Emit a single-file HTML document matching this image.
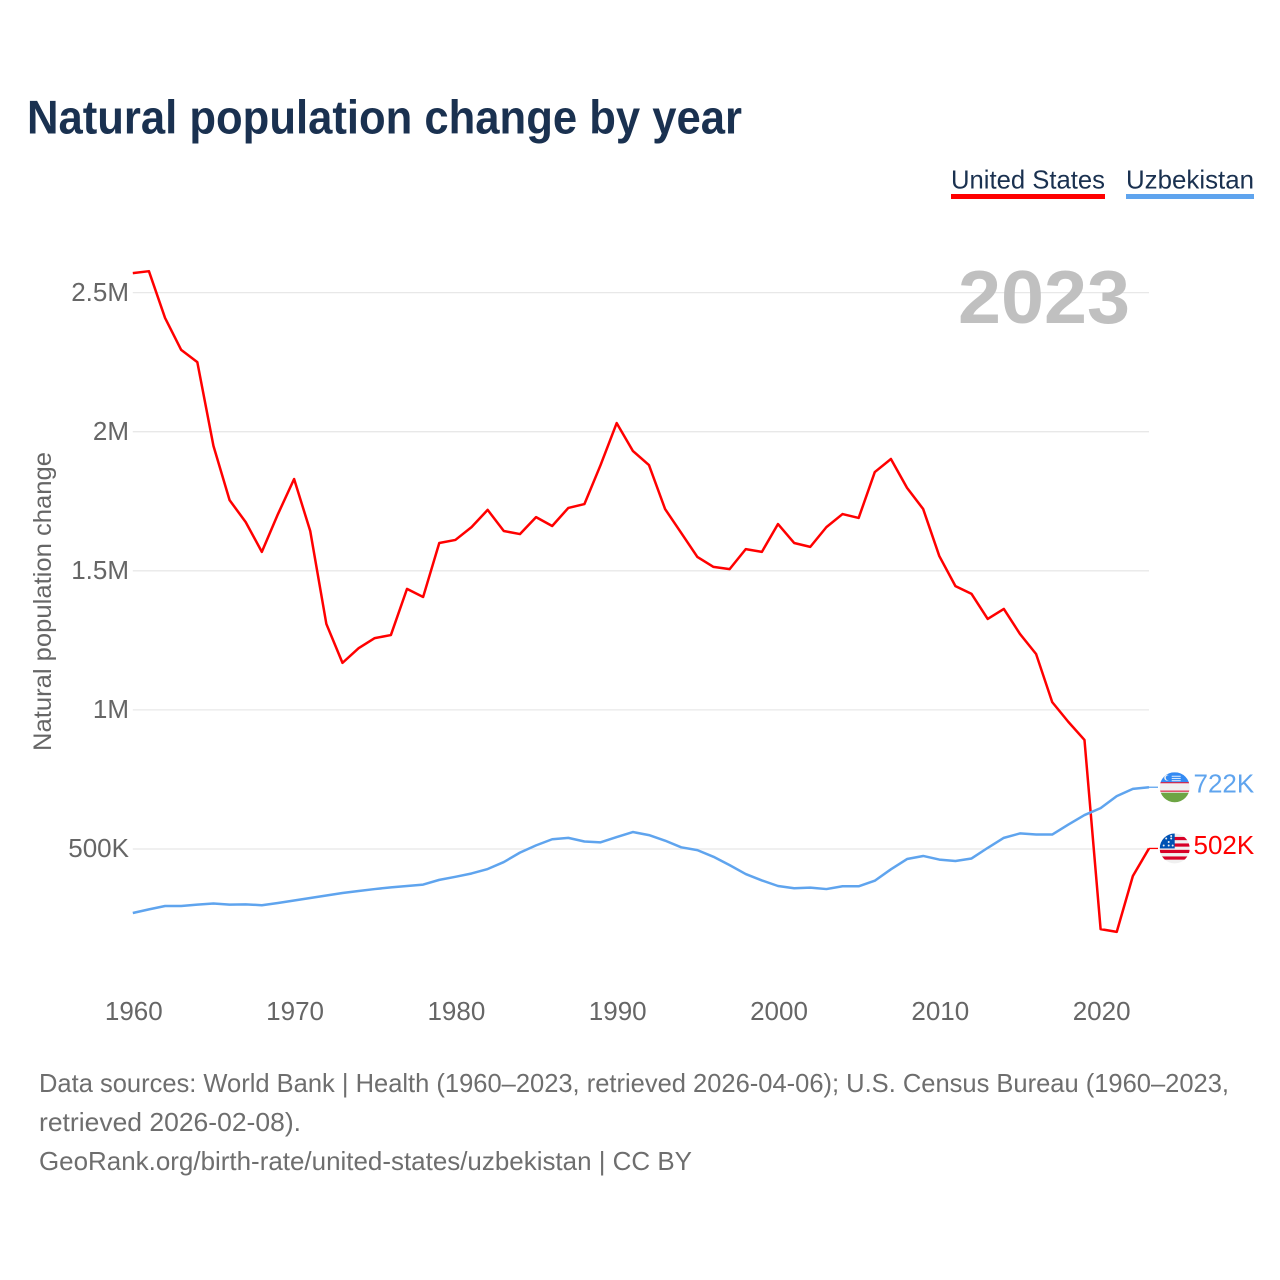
<!DOCTYPE html>
<html lang="en">
<head>
<meta charset="utf-8">
<title>Natural population change by year</title>
<style>
html,body{margin:0;padding:0;background:#fff;width:1280px;height:1280px;overflow:hidden}
svg{display:block}
text{font-family:"Liberation Sans",sans-serif}
</style>
</head>
<body>
<svg id="chart" xmlns="http://www.w3.org/2000/svg" width="1280" height="1280" viewBox="0 0 1280 1280">
  <text x="27" y="133.5" font-size="47" font-weight="700" fill="#1a3150" textLength="715" lengthAdjust="spacingAndGlyphs">Natural population change by year</text>
  <g>
    <g>
      <text x="951" y="188.5" font-size="26" fill="#1a3150" textLength="154" lengthAdjust="spacingAndGlyphs">United States</text>
      <rect x="951" y="194" width="154" height="5" fill="#ff0000"/>
    </g>
    <g>
      <text x="1126" y="188.5" font-size="26" fill="#1a3150" textLength="128" lengthAdjust="spacingAndGlyphs">Uzbekistan</text>
      <rect x="1126" y="194" width="128" height="5" fill="#5fa4ee"/>
    </g>
  </g>
  <g id="grid"></g>
  <text x="958" y="323" font-size="75" font-weight="700" fill="#c0c0c0" textLength="172" lengthAdjust="spacingAndGlyphs">2023</text>
  <g id="yticks"></g>
  <g id="xticks"></g>
  <text transform="translate(51 601.5) rotate(-90)" text-anchor="middle" font-size="25" fill="#666666" textLength="299" lengthAdjust="spacingAndGlyphs">Natural population change</text>
  <g id="series"></g>
  <g id="ends"></g>
  <g font-size="26" fill="#6e6e6e">
    <text x="39" y="1092" textLength="1190" lengthAdjust="spacingAndGlyphs">Data sources: World Bank | Health (1960–2023, retrieved 2026-04-06); U.S. Census Bureau (1960–2023,</text>
    <text x="39" y="1131" textLength="262" lengthAdjust="spacingAndGlyphs">retrieved 2026-02-08).</text>
    <text x="39" y="1170" textLength="653" lengthAdjust="spacingAndGlyphs">GeoRank.org/birth-rate/united-states/uzbekistan | CC BY</text>
  </g>
</svg>
<script>
// Chart data (values in thousands)
const startYear = 1960;
const unitedStates = [2570,2577,2409,2294,2250,1949,1754,1675,1568,1704,1830,1643,1309,1169,1222,1258,1269,1435,1406,1600,1611,1657,1719,1643,1632,1693,1661,1726,1740,1880,2031,1931,1880,1722,1636,1550,1514,1506,1578,1568,1668,1600,1586,1657,1704,1690,1855,1902,1798,1722,1553,1445,1417,1327,1363,1273,1201,1028,957,892,212,202,403,502];
const uzbekistan = [270,283,295,295,300,304,300,301,298,306,315,324,333,342,349,356,362,367,372,389,400,412,428,453,487,513,535,540,527,524,543,561,550,530,506,496,472,442,410,387,367,359,361,356,366,366,386,427,464,475,462,457,466,504,540,556,552,552,588,622,647,690,716,722];
const yTickValues = [500,1000,1500,2000,2500];
const yTickLabels = ['500K','1M','1.5M','2M','2.5M'];
const xTickYears = [1960,1970,1980,1990,2000,2010,2020];

const NS = 'http://www.w3.org/2000/svg';
const plotLeft = 132.8, plotRight = 1149, yearSpan = 63;
const yZero = 988.1, pxPerK = 139.1 / 500;
function xScale(year){ return plotLeft + (year - startYear) * (plotRight - plotLeft) / yearSpan; }
function yScale(v){ return yZero - v * pxPerK; }
function make(tag, attrs, parent){
  const e = document.createElementNS(NS, tag);
  for (const k in attrs) e.setAttribute(k, attrs[k]);
  parent.appendChild(e);
  return e;
}

const grid = document.getElementById('grid');
const yticks = document.getElementById('yticks');
yTickValues.forEach(function(v, i){
  const y = yScale(v);
  const line = make('line', {x1: plotLeft, x2: plotRight, y1: y, y2: y, stroke: '#e8e8e8', 'stroke-width': 1.3}, grid);
  
  
  const t = make('text', {x: 129, y: y + 8.2, 'text-anchor': 'end', 'font-size': 26, fill: '#666666'}, yticks);
  
  
  t.textContent = yTickLabels[i];
});

const xticks = document.getElementById('xticks');
xTickYears.forEach(function(yr){
  const t = make('text', {x: xScale(yr) + 1, y: 1020, 'text-anchor': 'middle', 'font-size': 26, fill: '#666666'}, xticks);
  
  
  t.textContent = String(yr);
});

function pathFor(values){
  return values.map(function(v, i){
    return (i ? 'L' : 'M') + xScale(startYear + i).toFixed(2) + ' ' + yScale(v).toFixed(2);
  }).join(' ');
}
const series = document.getElementById('series');
const usLine = make('path', {d: pathFor(unitedStates), fill: 'none', stroke: '#ff0000', 'stroke-width': 2.5, 'stroke-linejoin': 'round'}, series);


const uzLine = make('path', {d: pathFor(uzbekistan), fill: 'none', stroke: '#5fa4ee', 'stroke-width': 2.5, 'stroke-linejoin': 'round'}, series);



const ends = document.getElementById('ends');
const defs = make('defs', {}, ends);
const clipEl = make('clipPath', {id: 'flag-clip'}, defs);
make('circle', {cx: 0, cy: 0, r: 15}, clipEl);

function endLabel(values, color){
  const y = yScale(values[values.length - 1]);
  const conn = make('line', {x1: plotRight, x2: 1158, y1: y, y2: y, stroke: color, 'stroke-width': 1.3}, ends);
  
  
  const t = make('text', {x: 1193.5, y: y + 5.5, 'font-size': 26, fill: color}, ends);
  
  
  t.textContent = Math.round(values[values.length - 1]) + 'K';
  const g = make('g', {transform: 'translate(1174.7 ' + y + ')', 'clip-path': 'url(#flag-clip)'}, ends);
  return g;
}

// Uzbekistan flag
const uzFlag = endLabel(uzbekistan, '#5fa4ee');


make('rect', {x: -15, y: -15, width: 30, height: 30, fill: '#f0f0f0'}, uzFlag);
make('rect', {x: -15, y: -15, width: 30, height: 10, fill: '#338af3'}, uzFlag);
make('rect', {x: -15, y: -5, width: 30, height: 1, fill: '#d80027'}, uzFlag);
make('rect', {x: -15, y: 3.4, width: 30, height: 1, fill: '#d80027'}, uzFlag);
make('rect', {x: -15, y: 5.5, width: 30, height: 10, fill: '#6da544'}, uzFlag);
make('circle', {cx: -7.5, cy: -9.5, r: 3, fill: '#f0f0f0'}, uzFlag);
make('circle', {cx: -6.3, cy: -9.5, r: 2.6, fill: '#338af3'}, uzFlag);
make('rect', {x: -3, y: -11.5, width: 9, height: 1.1, fill: '#d7e7fb'}, uzFlag);
make('rect', {x: -3, y: -9.3, width: 9, height: 1.1, fill: '#d7e7fb'}, uzFlag);
make('rect', {x: -3, y: -7.1, width: 9, height: 1.1, fill: '#d7e7fb'}, uzFlag);

// US flag
const usFlag = endLabel(unitedStates, '#ff0000');


make('rect', {x: -15, y: -15, width: 30, height: 30, fill: '#f0f0f0'}, usFlag);
make('rect', {x: -1, y: -11.5, width: 16, height: 3.2, fill: '#d80027'}, usFlag);
make('rect', {x: -1, y: -5, width: 16, height: 3.2, fill: '#d80027'}, usFlag);
make('rect', {x: -15, y: 1.4, width: 30, height: 3.2, fill: '#d80027'}, usFlag);
make('rect', {x: -15, y: 8, width: 30, height: 3.2, fill: '#d80027'}, usFlag);
make('rect', {x: -15, y: -15, width: 15, height: 15, fill: '#0052b4'}, usFlag);
[[-8.5,-10],[-3.5,-10],[-6,-6.5],[-11,-3],[-6,-3],[-2,-3],[-3.5,-12.5]].forEach(function(p){
  make('circle', {cx: p[0], cy: p[1], r: 1, fill: '#f0f0f0'}, usFlag);
});
</script>
</body>
</html>
